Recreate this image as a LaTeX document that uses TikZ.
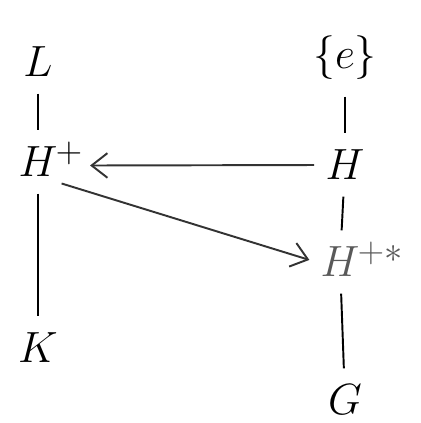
\documentclass[tikz,border=0pt]{standalone}
\usepackage{tikz}
\usetikzlibrary{arrows.meta}
\begin{document}
\begin{tikzpicture}[x=0.02cm,y=-0.02cm, line width=1.1pt,
	obj/.style={
		inner sep=2pt,
		font=\fontsize{30}{36}\selectfont
	},
	inc/.style={shorten <=7pt, shorten >=7pt},
	map/.style={->, >={Straight Barb[length=9pt,width=14pt]}, black!80, shorten <=4pt, shorten >=4pt}
	]
	\useasboundingbox (0,0) rectangle (420,423);
	
	%linke Kette
	\node[obj] (L)  at (38,62)  {$L$};
	\node[obj] (Hp) at (38,162) {$H$};
	\node[obj, anchor=west, inner sep=0pt] (Hp-s) at ([xshift=-4pt,yshift=-6pt]Hp.north east) {$\scriptstyle+$};
	\node[obj] (K)  at (38,348) {$K$};
	
	%rechte Kette
	\node[obj] (e)   at (345,58)  {$\{e\}$};
	\node[obj] (H)   at (345,165) {$H$};
	\node[obj,text=black!65] (Hps) at (340,262) {$H$};
	\node[obj,text=black!65, anchor=west, inner sep=0pt] (Hps-s) at ([xshift=-4pt,yshift=-6pt]Hps.north east) {$\scriptstyle+*$};
	\node[obj] (G)   at (345,400) {$G$};
	
	\draw[inc] (L) -- (Hp);
	\draw[inc] (Hp) -- (K);
	\draw[inc] (e) -- (H);
	\draw[inc] (H) -- (Hps);
	\draw[inc] (Hps) -- (G);
	
	%Pfeile
	\draw[map] (H.west) -- (Hp-s.south east);
	\draw[map] (Hp-s.south west |- Hp.south east) -- (Hps.west);
\end{tikzpicture}
\end{document}
